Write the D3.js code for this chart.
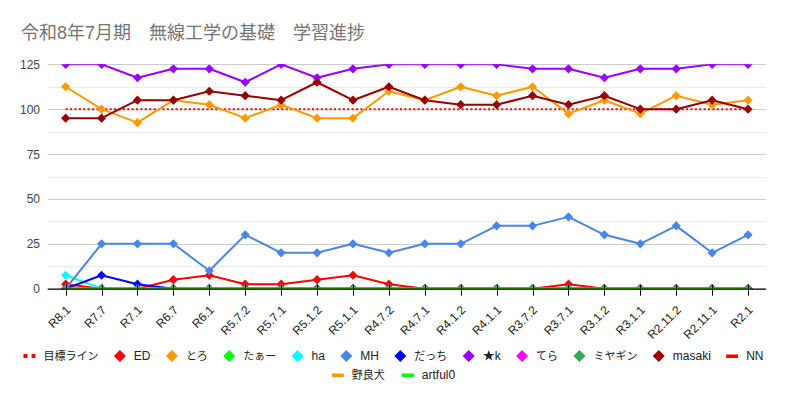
<!DOCTYPE html>
<html><head><meta charset="utf-8">
<script src="https://cdn.jsdelivr.net/npm/d3@7"></script>
<style>
body{margin:0;background:#fff}
svg{display:block}
text{font-family:"Liberation Sans",Arial,"Noto Sans CJK JP",sans-serif}
</style>
</head><body>
<svg id="c" width="787" height="402"></svg>
<script>
const title = "令和8年7月期　無線工学の基礎　学習進捗";
const categories = ["R8.1","R7.7","R7.1","R6.7","R6.1","R5.7.2","R5.7.1","R5.1.2","R5.1.1","R4.7.2","R4.7.1","R4.1.2","R4.1.1","R3.7.2","R3.7.1","R3.1.2","R3.1.1","R2.11.2","R2.11.1","R2.1"];
const yTicks = [0,25,50,75,100,125];
const yGrid = [0,12.5,25,37.5,50,62.5,75,87.5,100,112.5,125];

const target  = [100,100,100,100,100,100,100,100,100,100,100,100,100,100,100,100,100,100,100,100];
const ed      = [2.5,0,0,5,7.5,2.5,2.5,5,7.5,2.5,0,0,0,0,2.5,0,0,0,0,0];
const toro    = [112.5,100,92.5,105,102.5,95,102.5,95,95,110,105,112.5,107.5,112.5,97.5,105,97.5,107.5,102.5,105];
const taa     = [0,0,0,0,0,0,0,0,0,0,0,0,0,0,0,0,0,0,0,0];
const ha      = [7.5,0,0,0,0,0,0,0,0,0,0,0,0,0,0,0,0,0,0,0];
const mh      = [0,25,25,25,10,30,20,20,25,20,25,25,35,35,40,30,25,35,20,30];
const dacchi  = [0,7.5,2.5,0,0,0,0,0,0,0,0,0,0,0,0,0,0,0,0,0];
const starK   = [125,125,117.5,122.5,122.5,115,125,117.5,122.5,125,125,125,125,122.5,122.5,117.5,122.5,122.5,125,125];
const tera    = [0,0,0,0,0,0,0,0,0,0,0,0,0,0,0,0,0,0,0,0];
const miyagin = [0,0,0,0,0,0,0,0,0,0,0,0,0,0,0,0,0,0,0,0];
const masaki  = [95,95,105,105,110,107.5,105,115,105,112.5,105,102.5,102.5,107.5,102.5,107.5,100,100,105,100];
const nn      = [0,0,0,0,0,0,0,0,0,0,0,0,0,0,0,0,0,0,0,0];
const norainu = [0,0,0,0,0,0,0,0,0,0,0,0,0,0,0,0,0,0,0,0];
const artful0 = [0,0,0,0,0,0,0,0,0,0,0,0,0,0,0,0,0,0,0,0];

const seriesNames  = ["目標ライン","ED","とろ","たぁー","ha","MH","だっち","★k","てら","ミヤギン","masaki","NN","野良犬","artful0"];
const seriesValues = [target, ed, toro, taa, ha, mh, dacchi, starK, tera, miyagin, masaki, nn, norainu, artful0];
const seriesColors = ["#ff0000","#ff0000","#ff9900","#00ff00","#00ffff","#4a86e8","#0000ff","#9900ff","#ff00ff","#34a853","#990000","#ff0000","#ff9900","#00ff00"];
const seriesKinds  = ["dotted","diamond","diamond","diamond","diamond","diamond","diamond","diamond","diamond","diamond","diamond","line","line","line"];
const legendRows   = [12, 2];

const svg = d3.select("#c");
const pLeft = 47.7, pRight = 766, pTop = 64.3, pBottom = 288.7;

const x = d3.scalePoint().domain(categories).range([pLeft, pRight]).padding(0.5);
const y = d3.scaleLinear().domain([0,125]).range([pBottom, pTop]);

// title
svg.append("text").attr("x", 21).attr("y", 39).attr("font-size", 18).attr("fill", "#757575")
  .style("white-space","pre").text(title);

// grid
svg.append("g").selectAll("line").data(yGrid).join("line")
  .attr("x1", pLeft).attr("x2", pRight)
  .attr("y1", d => Math.round(y(d)) + 0.5).attr("y2", d => Math.round(y(d)) + 0.5)
  .attr("stroke", d => (d % 25 === 0) ? "#cccccc" : "#ebebeb").attr("stroke-width", 1);

// y labels
svg.append("g").selectAll("text").data(yTicks).join("text")
  .attr("x", 40).attr("y", d => y(d) + 4.5).attr("text-anchor", "end")
  .attr("font-size", 12).attr("fill", "#444").text(d => d);

// clip
svg.append("defs").append("clipPath").attr("id", "clip").append("rect")
  .attr("x", pLeft).attr("y", pTop).attr("width", pRight - pLeft).attr("height", pBottom - pTop);

const plot = svg.append("g").attr("clip-path", "url(#clip)");
const line = d3.line().x((d, i) => x(categories[i])).y(d => y(d));
const diamond = (cx, cy, r) => `M${cx},${cy - r}L${cx + r},${cy}L${cx},${cy + r}L${cx - r},${cy}Z`;

seriesValues.forEach((vals, si) => {
  const kind = seriesKinds[si], col = seriesColors[si];
  const p = plot.append("path").datum(vals).attr("d", line).attr("fill", "none")
    .attr("stroke", col).attr("stroke-width", 2).attr("stroke-linejoin", "round");
  if (kind === "dotted") p.attr("stroke-dasharray", "2,2.4");
  if (kind === "diamond") {
    plot.append("g").selectAll("path").data(vals).join("path")
      .attr("d", (d, i) => diamond(x(categories[i]), y(d), 4.6)).attr("fill", col);
  }
});

// axis baseline and ticks
svg.append("line").attr("x1", pLeft).attr("x2", pRight).attr("y1", pBottom + 0.5).attr("y2", pBottom + 0.5)
  .attr("stroke", "#000").attr("stroke-width", 1.2);
svg.append("g").selectAll("line").data(categories).join("line")
  .attr("x1", d => Math.round(x(d)) + 0.5).attr("x2", d => Math.round(x(d)) + 0.5)
  .attr("y1", pBottom - 4).attr("y2", pBottom + 7).attr("stroke", "#000").attr("stroke-width", 1);

// x labels
svg.append("g").selectAll("text").data(categories).join("text")
  .attr("transform", d => `translate(${x(d) + 5.5},${pBottom + 22}) rotate(-45)`)
  .attr("text-anchor", "end").attr("font-size", 12).attr("fill", "#222").text(d => d);

// legend
const legend = svg.append("g");
const isCJK = s => /[\u3000-\u9fff]/.test(s);
const items = seriesNames.map((n, i) => ({ name: n, color: seriesColors[i], kind: seriesKinds[i], fs: isCJK(n) ? 11 : 12 }));
const rowsY = [356, 375];
const maxRow = 740;
const meas = svg.append("text");
items.forEach(it => { meas.attr("font-size", it.fs).text(it.name); it.tw = meas.node().getComputedTextLength(); it.w = 20 + it.tw; });
meas.remove();
let start = 0;
legendRows.forEach((cnt, ri) => {
  const row = items.slice(start, start + cnt); start += cnt;
  const sumW = d3.sum(row, d => d.w);
  const gap = row.length > 1 ? Math.min(17, (maxRow - sumW) / (row.length - 1)) : 0;
  const total = sumW + gap * (row.length - 1);
  let xx = (787 - total) / 2;
  const cy = rowsY[ri];
  row.forEach(it => {
    const g = legend.append("g");
    if (it.kind === "diamond") g.append("path").attr("d", diamond(xx + 6, cy, 6)).attr("fill", it.color);
    else if (it.kind === "line") g.append("rect").attr("x", xx).attr("y", cy - 1.5).attr("width", 12).attr("height", 3.5).attr("fill", it.color);
    else { g.append("rect").attr("x", xx).attr("y", cy - 2).attr("width", 4).attr("height", 4).attr("fill", it.color);
           g.append("rect").attr("x", xx + 8).attr("y", cy - 2).attr("width", 4).attr("height", 4).attr("fill", it.color); }
    g.append("text").attr("x", xx + 20).attr("y", cy + 4.3).attr("font-size", it.fs).attr("fill", "#222").text(it.name);
    xx += it.w + gap;
  });
});
</script>
</body></html>
